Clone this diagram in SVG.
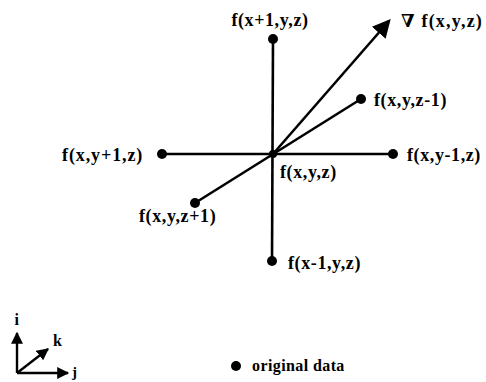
<svg xmlns="http://www.w3.org/2000/svg" width="486" height="382" viewBox="0 0 486 382">
<defs>
<style>
.ln{stroke:#000;stroke-width:2.6;fill:none}
.thin{stroke:#000;stroke-width:2.4;fill:none}
.dot{fill:#000}
</style>
<marker id="ah" markerWidth="8" markerHeight="8" refX="6" refY="4" orient="auto" markerUnits="strokeWidth">
<path d="M0,0.5 L7,4 L0,7.5 Z" fill="#000"/>
</marker>
<marker id="sh" markerWidth="6" markerHeight="6" refX="4.5" refY="3" orient="auto" markerUnits="strokeWidth">
<path d="M0,0.5 L5,3 L0,5.5 Z" fill="#000"/>
</marker>
</defs>
<rect width="486" height="382" fill="#fff"/>
<g id="connectors">
<line class="ln" x1="273" y1="39" x2="272" y2="261"/>
<line class="ln" x1="162" y1="154" x2="393" y2="154"/>
<line class="ln" x1="195" y1="203" x2="361" y2="99"/>
<line class="ln" x1="273" y1="154" x2="389" y2="21" marker-end="url(#ah)"/>
</g>
<g font-family="Liberation Serif, DejaVu Serif, serif" font-weight="bold" font-size="18" letter-spacing="0.6" fill="#000">
<g id="center"><circle class="dot" cx="273" cy="154" r="4"/><text x="280" y="178">f(x,y,z)</text></g>
<g id="xp1"><circle class="dot" cx="273" cy="39" r="5"/><text x="270" y="26" text-anchor="middle">f(x+1,y,z)</text></g>
<g id="xm1"><circle class="dot" cx="272" cy="261" r="5"/><text x="288" y="269">f(x-1,y,z)</text></g>
<g id="yp1"><circle class="dot" cx="162" cy="154" r="5"/><text x="62" y="161" letter-spacing="0.9">f(x,y+1,z)</text></g>
<g id="ym1"><circle class="dot" cx="393" cy="154" r="5"/><text x="407" y="161">f(x,y-1,z)</text></g>
<g id="zm1"><circle class="dot" cx="361" cy="99" r="5"/><text x="374" y="106">f(x,y,z-1)</text></g>
<g id="zp1"><circle class="dot" cx="195" cy="203" r="5"/><text x="139" y="222">f(x,y,z+1)</text></g>
<g id="grad"><text x="401" y="27" letter-spacing="1.2">∇ f(x,y,z)</text></g>
<g id="axes">
<line class="thin" x1="17" y1="373" x2="17" y2="333" marker-end="url(#sh)"/>
<line class="thin" x1="17" y1="373" x2="68" y2="373" marker-end="url(#sh)"/>
<line class="thin" x1="17" y1="373" x2="48" y2="349" marker-end="url(#sh)"/>
<text x="17" y="325" text-anchor="middle" font-size="16">i</text>
<text x="72" y="377" font-size="15">j</text>
<text x="53" y="346" font-size="16">k</text>
</g>
<g id="legend"><circle class="dot" cx="236" cy="366" r="5"/><text x="252" y="371" font-size="16" letter-spacing="0.4">original data</text></g>
</g>
</svg>
